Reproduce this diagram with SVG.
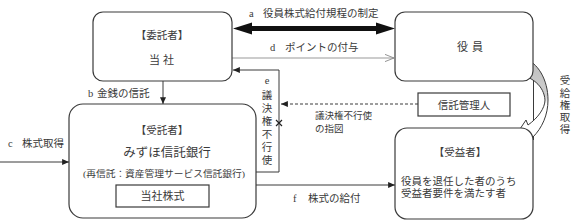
<svg xmlns="http://www.w3.org/2000/svg" width="581" height="221" viewBox="0 0 581 221">
<style>
text{font-family:"Liberation Serif","Noto Sans CJK JP",serif;font-size:10.5px;fill:#3a3a3a}
.box{fill:#fff;stroke:#3a3a3a;stroke-width:1.2}
.ln{fill:none;stroke:#3a3a3a;stroke-width:1}
.c{text-anchor:middle}
</style>
<defs>
<marker id="ah" viewBox="0 0 8 7" refX="8" refY="3.5" markerWidth="7" markerHeight="6" markerUnits="userSpaceOnUse" orient="auto">
<path d="M0,0 L8,3.5 L0,7 Z" fill="#222"/>
</marker>
<marker id="oh" viewBox="0 0 10 10" refX="10" refY="5" markerWidth="10" markerHeight="9" markerUnits="userSpaceOnUse" orient="auto">
<path d="M0,1 L10,5 L0,9" fill="none" stroke="#888" stroke-width="1"/>
</marker>
<linearGradient id="gr" gradientUnits="userSpaceOnUse" x1="0" y1="58" x2="0" y2="149">
<stop offset="0" stop-color="#bdbdbd"/>
<stop offset="0.42" stop-color="#cfcfcf"/>
<stop offset="0.5" stop-color="#fff"/>
<stop offset="1" stop-color="#fff"/>
</linearGradient>
</defs>

<g id="connectors">
<path d="M233,28.5 L252,22.5 L252,26 L376,26 L376,22.5 L395,28.5 L376,34.5 L376,31 L252,31 L252,34.5 Z" fill="#111"/>
<line x1="232" y1="58" x2="394" y2="58" stroke="#999" stroke-width="1" marker-end="url(#oh)"/>
<line class="ln" x1="163" y1="81" x2="163" y2="104" marker-end="url(#ah)"/>
<line class="ln" x1="0" y1="162" x2="69" y2="162" marker-end="url(#ah)"/>
<polyline class="ln" points="256,172 279,172 279,70 233,70" marker-end="url(#ah)"/>
<line class="ln" x1="418" y1="104" x2="281" y2="104" stroke-dasharray="3,2" marker-end="url(#ah)"/>
<path d="M276,120 L282,126 M282,120 L276,126" stroke="#222" stroke-width="1.2"/>
<line class="ln" x1="256" y1="185" x2="395" y2="185" marker-end="url(#ah)"/>
<line class="ln" x1="533.5" y1="70" x2="533.5" y2="140"/>
<path d="M515,61 L523,58 C538,62 548,80 548,100 C548,115 542,128 533,137 L528,149 L516,135 L526,120 L528,125 C538,118 545,108 545,100 C544,86 532,76 516,74 Z" fill="url(#gr)" stroke="#3a3a3a" stroke-width="1"/>
</g>

<g id="label-a"><text x="249" y="17">a</text><text x="263" y="17">役員株式給付規程の制定</text></g>
<g id="label-d"><text x="270" y="51">d</text><text x="285" y="51">ポイントの付与</text></g>
<g id="label-b"><text x="88" y="97">b</text><text x="97" y="97">金銭の信託</text></g>
<g id="label-c"><text x="8" y="147">c</text><text x="22" y="147">株式取得</text></g>
<g id="label-f"><text x="293" y="202">f</text><text x="308" y="202">株式の給付</text></g>
<g id="label-e">
<text x="267" y="84" class="c">e</text>
<text x="267" y="99" class="c">議</text>
<text x="267" y="112" class="c">決</text>
<text x="267" y="125" class="c">権</text>
<text x="267" y="138" class="c">不</text>
<text x="267" y="151" class="c">行</text>
<text x="267" y="164" class="c">使</text>
</g>
<g id="label-shizu"><text x="315" y="119" style="font-size:9.5px">議決権不行使</text><text x="315" y="132" style="font-size:9.5px">の指図</text></g>
<g id="label-jukyu">
<text x="565" y="84" class="c">受</text>
<text x="565" y="97" class="c">給</text>
<text x="565" y="109" class="c">権</text>
<text x="565" y="121" class="c">取</text>
<text x="565" y="133" class="c">得</text>
</g>

<g id="itakusha">
<rect class="box" x="93" y="12" width="139" height="69" rx="10"/>
<text x="162" y="39" class="c">【委託者】</text>
<text x="163" y="64" class="c" style="letter-spacing:3px;font-size:11px">当社</text>
</g>
<g id="yakuin">
<rect class="box" x="395" y="12" width="138" height="69" rx="10"/>
<text x="472" y="51" class="c" style="letter-spacing:4px;font-size:11px">役員</text>
</g>
<g id="shintakukanrinin">
<rect class="box" x="418" y="93" width="92" height="23"/>
<text x="464" y="109" class="c">信託管理人</text>
</g>
<g id="jutakusha">
<rect class="box" x="69" y="104" width="187" height="114" rx="14"/>
<text x="162" y="134" class="c">【受託者】</text>
<text x="167" y="156.5" class="c" style="font-size:12.5px">みずほ信託銀行</text>
<text x="164" y="177" class="c" style="font-size:9px" textLength="162" lengthAdjust="spacingAndGlyphs">(再信託：資産管理サービス信託銀行)</text>
<rect class="box" x="116" y="185" width="93" height="22"/>
<text x="162.5" y="200" class="c" style="font-size:11px">当社株式</text>
</g>
<g id="jueki">
<rect class="box" x="395" y="128" width="138" height="91" rx="12"/>
<text x="460" y="156" class="c">【受益者】</text>
<text x="401" y="185">役員を退任した者のうち</text>
<text x="401" y="197">受益者要件を満たす者</text>
</g>
</svg>
